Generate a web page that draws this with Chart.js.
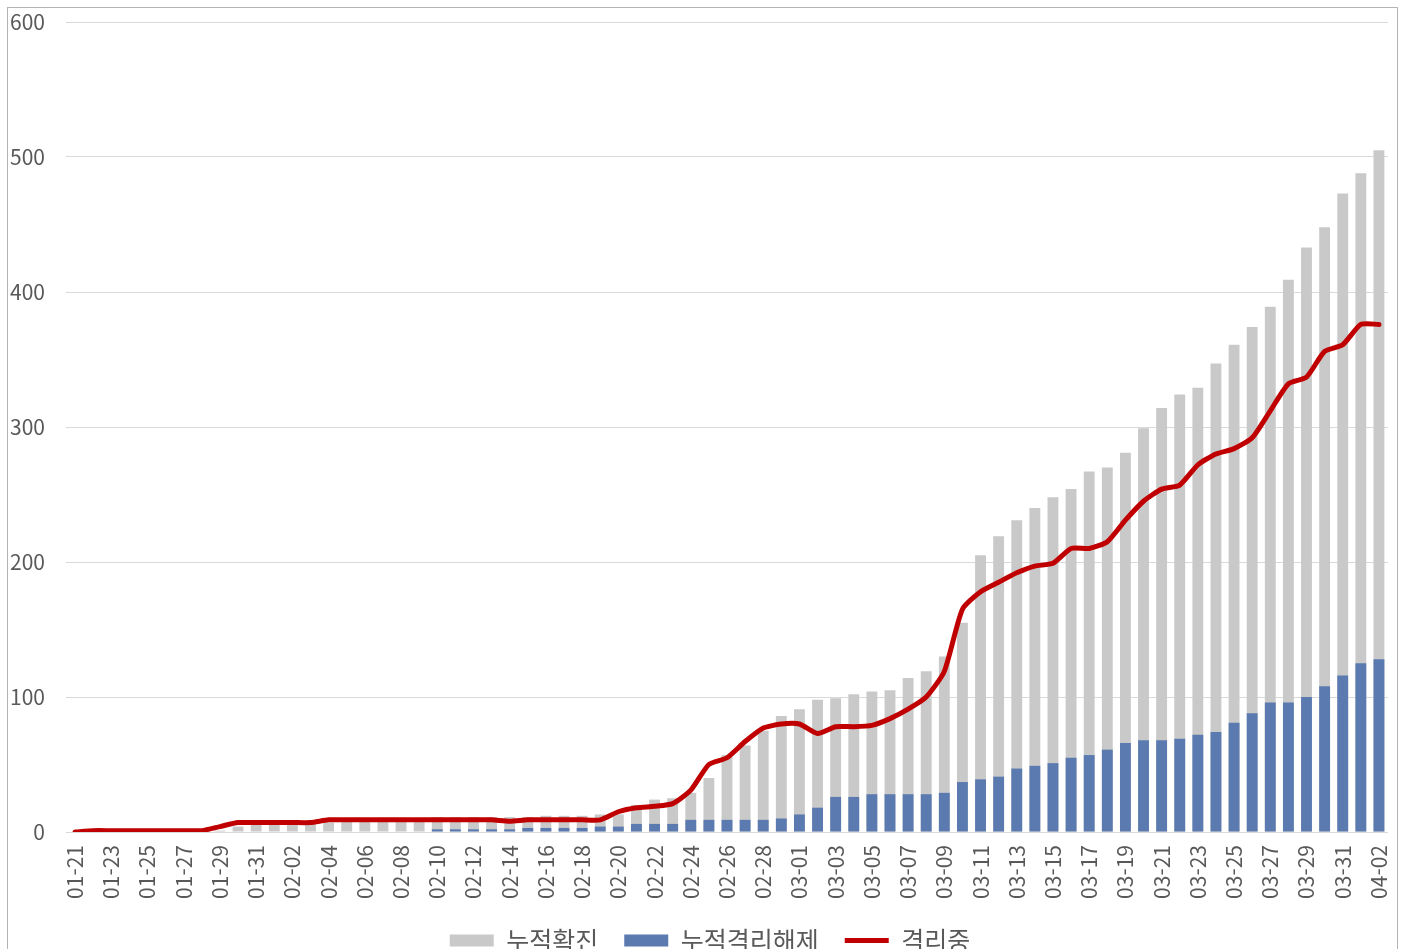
<!DOCTYPE html>
<html lang="ko">
<head>
<meta charset="utf-8">
<title>누적확진 / 누적격리해제 / 격리중</title>
<script src="https://cdn.jsdelivr.net/npm/chart.js@4.4.1/dist/chart.umd.min.js"></script>
<style>
    html, body { margin: 0; padding: 0; background: #fff; overflow: hidden; width: 1404px; height: 949px; }
    #wrap { position: absolute; left: 0; top: 0; width: 1404px; height: 963px; }
    #frame { position: absolute; left: 7px; top: 7px; width: 1391px; height: 1000px; border: 1px solid #b4b4b4; box-sizing: border-box; pointer-events: none; }
</style>
</head>
<body>
<div id="wrap"><canvas id="isoChart"></canvas></div>
<div id="frame"></div>
<script>
// =======================================================================
// 1. DATA
// =======================================================================
const dateLabels = [
    '01-21', '01-22', '01-23', '01-24', '01-25', '01-26', '01-27', '01-28', '01-29', '01-30', '01-31',
    '02-01', '02-02', '02-03', '02-04', '02-05', '02-06', '02-07', '02-08', '02-09', '02-10',
    '02-11', '02-12', '02-13', '02-14', '02-15', '02-16', '02-17', '02-18', '02-19', '02-20',
    '02-21', '02-22', '02-23', '02-24', '02-25', '02-26', '02-27', '02-28', '02-29',
    '03-01', '03-02', '03-03', '03-04', '03-05', '03-06', '03-07', '03-08', '03-09', '03-10',
    '03-11', '03-12', '03-13', '03-14', '03-15', '03-16', '03-17', '03-18', '03-19', '03-20',
    '03-21', '03-22', '03-23', '03-24', '03-25', '03-26', '03-27', '03-28', '03-29', '03-30', '03-31',
    '04-01', '04-02'
];

// 누적확진 (gray bars)
const confirmedCum = [
    0, 0, 1, 1, 1, 1, 1, 1, 1, 4,
    7, 7, 7, 7, 7, 9, 9, 9, 9, 9,
    11, 11, 11, 11, 11, 11, 12, 12, 12, 13,
    13, 20, 24, 25, 29, 40, 57, 64, 75, 86,
    91, 98, 99, 102, 104, 105, 114, 119, 130, 155,
    205, 219, 231, 240, 248, 254, 267, 270, 281, 299,
    314, 324, 329, 347, 361, 374, 389, 409, 433, 448,
    473, 488, 505
];

// 누적격리해제 (blue bars)
const releasedCum = [
    0, 0, 0, 0, 0, 0, 0, 0, 0, 0,
    0, 0, 0, 0, 0, 0, 0, 0, 0, 0,
    2, 2, 2, 2, 2, 3, 3, 3, 3, 4,
    4, 6, 6, 6, 9, 9, 9, 9, 9, 10,
    13, 18, 26, 26, 28, 28, 28, 28, 29, 37,
    39, 41, 47, 49, 51, 55, 57, 61, 66, 68,
    68, 69, 72, 74, 81, 88, 96, 96, 100, 108,
    116, 125, 128
];

// 격리중 (red line)
const isolating = [
    0, 1, 1, 1, 1, 1, 1, 1, 4, 7,
    7, 7, 7, 7, 9, 9, 9, 9, 9, 9,
    9, 9, 9, 9, 8, 9, 9, 9, 9, 9,
    15, 18, 19, 21, 31, 50, 55, 67, 77, 80,
    80, 73, 78, 78, 79, 84, 91, 100, 119, 165,
    178, 185, 192, 197, 199, 210, 210, 215, 231, 245,
    254, 257, 272, 280, 284, 292, 312, 332, 337, 356,
    361, 376, 376
];

const yTicks = [0, 100, 200, 300, 400, 500, 600];

// =======================================================================
// 2. CHART
// =======================================================================
const fontFamily = '"Noto Sans CJK KR", "Noto Sans", sans-serif';
const textGray = '#595959';

// the legend in the picture sits a little right of the canvas centre
const legendShift = {
    id: 'legendShift',
    afterLayout: function(chart) {
        if (!chart.legend) return;
        chart.legend.left += 16;
        chart.legend.right += 16;
    }
};

const ctxIso = document.getElementById('isoChart').getContext('2d');
window.isoChart = new Chart(ctxIso, {
    type: 'bar',
    data: {
        labels: dateLabels,
        datasets: [
            {
                label: '누적확진',
                data: confirmedCum,
                backgroundColor: '#c9c9c9',
                grouped: false,
                barPercentage: 0.6,
                categoryPercentage: 1,
                order: 3
            },
            {
                label: '누적격리해제',
                data: releasedCum,
                backgroundColor: '#5b7bb0',
                grouped: false,
                barPercentage: 0.6,
                categoryPercentage: 1,
                order: 2
            },
            {
                type: 'line',
                label: '격리중',
                data: isolating,
                borderColor: '#c00000',
                backgroundColor: '#c00000',
                borderWidth: 5,
                pointRadius: 0,
                tension: 0.2,
                borderCapStyle: 'round',
                borderJoinStyle: 'round',
                order: 1
            }
        ]
    },
    options: {
        responsive: true,
        maintainAspectRatio: false,
        animation: false,
        layout: { padding: { top: 22, right: 16, left: 0, bottom: 0 } },
        plugins: {
            tooltip: { enabled: false },
            legend: {
                position: 'bottom',
                labels: {
                    usePointStyle: true,
                    pointStyleWidth: 44,
                    boxWidth: 44,
                    boxHeight: 12,
                    padding: 26,
                    color: textGray,
                    font: { size: 25, family: fontFamily },
                    sort: (a, b) => a.datasetIndex - b.datasetIndex,
                    generateLabels: function(chart) {
                        const items = Chart.defaults.plugins.legend.labels.generateLabels(chart);
                        items.forEach(item => {
                            item.pointStyle = item.datasetIndex === 2 ? 'line' : 'rect';
                        });
                        return items;
                    }
                }
            }
        },
        scales: {
            x: {
                grid: { display: false, drawTicks: false },
                border: { display: false },
                ticks: {
                    autoSkip: false,
                    minRotation: 90,
                    maxRotation: 90,
                    padding: 13,
                    color: textGray,
                    font: { size: 21, family: fontFamily },
                    callback: function(value, index) {
                        return index % 2 === 0 ? this.getLabelForValue(value) : '';
                    }
                },
                afterFit: scale => {
                    scale.height = 70;
                    scale.paddingLeft = 0;
                    scale.paddingRight = 0;
                }
            },
            y: {
                min: yTicks[0],
                max: yTicks[yTicks.length - 1],
                afterBuildTicks: scale => { scale.ticks = yTicks.map(v => ({ value: v })); },
                grid: { color: '#d9d9d9', drawTicks: false },
                border: { display: false },
                ticks: {
                    padding: 21,
                    color: textGray,
                    font: { size: 21, family: fontFamily }
                },
                afterFit: scale => {
                    scale.width = 66;
                    scale.paddingTop = 0;
                    scale.paddingBottom = 0;
                }
            }
        }
    },
    plugins: [legendShift]
});
</script>
</body>
</html>
